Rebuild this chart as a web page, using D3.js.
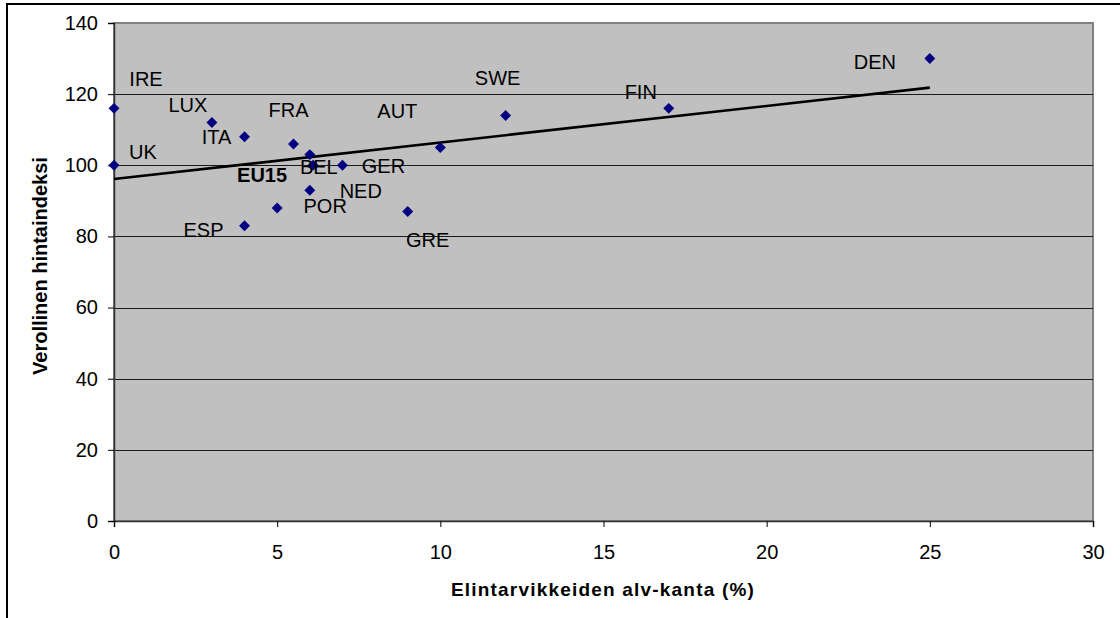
<!DOCTYPE html>
<html>
<head>
<meta charset="utf-8">
<script src="https://cdn.jsdelivr.net/npm/d3@7"></script>
<style>
  html, body { margin: 0; padding: 0; background: #fff; }
  svg { display: block; font-family: "Liberation Sans", Arial, sans-serif; }
</style>
</head>
<body>
<svg id="chart" width="1120" height="618"></svg>
<script>
// Countries, food VAT rate (%) and tax-inclusive price index
const countries = ["IRE", "UK", "LUX", "ITA", "FRA", "BEL", "EU15", "GER", "NED", "POR", "ESP", "GRE", "AUT", "SWE", "FIN", "DEN"];
const vatRates  = [0, 0, 3, 4, 5.5, 6, 6.1, 7, 6, 5, 4, 9, 10, 12, 17, 25];
const priceIdx  = [116, 100, 112, 108, 106, 103, 100, 100, 93, 88, 83, 87, 105, 114, 116, 130];
const boldLabels = ["EU15"];

const xTicks = [0, 5, 10, 15, 20, 25, 30];
const yTicks = [0, 20, 40, 60, 80, 100, 120, 140];

const xTitle = "Elintarvikkeiden alv-kanta (%)";
const yTitle = "Verollinen hintaindeksi";

// label placement relative to each marker (pixels)
const labelOffsets = {
  IRE: [32, -29], UK: [29, -13], LUX: [-24, -18], ITA: [-28, 0], FRA: [-5, -34],
  BEL: [9, 12], EU15: [-51, 10], GER: [41, 1], NED: [51, 1], POR: [48, -2],
  ESP: [-41, 4], GRE: [20, 28], AUT: [-43, -37], SWE: [-8, -37], FIN: [-28, -16],
  DEN: [-55, 3]
};

const data = countries.map((c, i) => ({ name: c, x: vatRates[i], y: priceIdx[i] }));

const svg = d3.select("#chart");
const plot = { left: 114, top: 23, right: 1093, bottom: 521 };

const x = d3.scaleLinear().domain([0, 30]).range([plot.left, plot.right]);
const y = d3.scaleLinear().domain([0, 140]).range([plot.bottom, plot.top]);

// outer chart frame
svg.append("rect")
  .attr("x", 7).attr("y", 4)
  .attr("width", 1200).attr("height", 700)
  .attr("fill", "none").attr("stroke", "#000").attr("stroke-width", 2);

// plot area
svg.append("rect")
  .attr("x", plot.left).attr("y", plot.top)
  .attr("width", plot.right - plot.left).attr("height", plot.bottom - plot.top)
  .attr("fill", "#c0c0c0").attr("stroke", "#808080").attr("stroke-width", 2);

// horizontal gridlines
svg.append("g")
  .selectAll("line")
  .data(yTicks.filter(t => t > 0 && t < 140))
  .join("line")
  .attr("x1", plot.left).attr("x2", plot.right)
  .attr("y1", d => Math.round(y(d)) + 0.5).attr("y2", d => Math.round(y(d)) + 0.5)
  .attr("stroke", "#1a1a1a").attr("stroke-width", 1);

// y axis
const yAxis = svg.append("g")
  .attr("transform", `translate(${plot.left},0)`)
  .call(d3.axisLeft(y).tickValues(yTicks).tickSize(6).tickPadding(10).tickFormat(d3.format("d")));
yAxis.select(".domain").attr("stroke", "#333").attr("stroke-width", 1.5);
yAxis.selectAll(".tick line").attr("stroke", "#000");
yAxis.selectAll(".tick text")
  .attr("font-size", 20).attr("fill", "#000")
  .attr("font-family", "Liberation Sans, Arial, sans-serif");

// x axis
const xAxis = svg.append("g")
  .attr("transform", `translate(0,${plot.bottom})`)
  .call(d3.axisBottom(x).tickValues(xTicks).tickSize(6).tickPadding(18).tickFormat(d3.format("d")));
xAxis.select(".domain").attr("stroke", "#333").attr("stroke-width", 1.5);
xAxis.selectAll(".tick line").attr("stroke", "#000");
xAxis.selectAll(".tick text")
  .attr("font-size", 20).attr("fill", "#000")
  .attr("font-family", "Liberation Sans, Arial, sans-serif");

// linear trend (least squares) across the data range
const mx = d3.mean(data, d => d.x), my = d3.mean(data, d => d.y);
const sxy = d3.sum(data, d => (d.x - mx) * (d.y - my));
const sxx = d3.sum(data, d => (d.x - mx) ** 2);
const slope = sxy / sxx, intercept = my - slope * mx;
const [x0, x1] = d3.extent(data, d => d.x);
svg.append("path")
  .datum([x0, x1].map(v => [v, intercept + slope * v]))
  .attr("d", d3.line().x(d => x(d[0])).y(d => y(d[1])))
  .attr("fill", "none").attr("stroke", "#000").attr("stroke-width", 2.6);

// markers
svg.append("g")
  .selectAll("path")
  .data(data)
  .join("path")
  .attr("d", d3.symbol(d3.symbolSquare, 60))
  .attr("transform", d => `translate(${x(d.x)},${y(d.y)}) rotate(45)`)
  .attr("fill", "#000080");

// point labels
svg.append("g")
  .selectAll("text")
  .data(data)
  .join("text")
  .attr("x", d => x(d.x) + labelOffsets[d.name][0])
  .attr("y", d => y(d.y) + labelOffsets[d.name][1])
  .attr("text-anchor", "middle")
  .attr("dominant-baseline", "central")
  .attr("font-size", 20)
  .attr("font-weight", d => boldLabels.includes(d.name) ? "bold" : "normal")
  .attr("fill", "#000")
  .text(d => d.name);

// axis titles
svg.append("text")
  .attr("x", 603).attr("y", 596)
  .attr("text-anchor", "middle")
  .attr("font-size", 19).attr("font-weight", "bold")
  .attr("letter-spacing", 1.2)
  .text(xTitle);

svg.append("text")
  .attr("transform", "translate(47,266) rotate(-90)")
  .attr("text-anchor", "middle")
  .attr("font-size", 20).attr("font-weight", "bold")
  .text(yTitle);
</script>
</body>
</html>
